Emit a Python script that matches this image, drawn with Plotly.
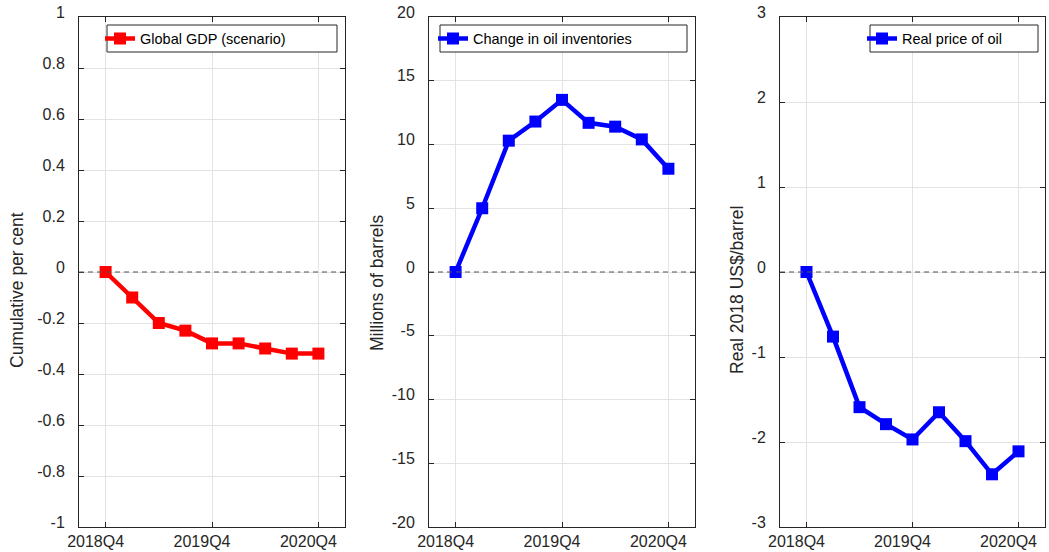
import plotly.graph_objects as go

# ---------------- data ----------------
quarters = ["2018Q4", "2019Q1", "2019Q2", "2019Q3", "2019Q4",
            "2020Q1", "2020Q2", "2020Q3", "2020Q4"]
x_tick_labels = ["2018Q4", "2019Q4", "2020Q4"]

gdp_values = [0.0, -0.10, -0.20, -0.23, -0.28, -0.28, -0.30, -0.32, -0.32]
inventory_values = [0.0, 5.0, 10.3, 11.8, 13.5, 11.7, 11.4, 10.4, 8.1]
price_values = [0.0, -0.76, -1.59, -1.79, -1.97, -1.65, -1.99, -2.38, -2.11]

series_names = ["Global GDP (scenario)", "Change in oil inventories", "Real price of oil"]
y_titles = ["Cumulative per cent", "Millions of barrels", "Real 2018 US$/barrel"]

gdp_ticks = [-1, -0.8, -0.6, -0.4, -0.2, 0, 0.2, 0.4, 0.6, 0.8, 1]
inventory_ticks = [-20, -15, -10, -5, 0, 5, 10, 15, 20]
price_ticks = [-3, -2, -1, 0, 1, 2, 3]

# ---------------- layout helpers ----------------
W, H = 1049, 552
FONT = "Liberation Sans, Arial, sans-serif"
TXT = "#262626"


def px_x(p):
    return p / W


def px_y(p):
    return 1 - p / H


def fmt(v):
    return f"{round(v, 6):g}"


panels = [
    dict(ticks=gdp_ticks, rng=[-1, 1], color="#ff0000",
         dom=[79, 345], legend_box=[107, 337], legend_x=100, title_x=17),
    dict(ticks=inventory_ticks, rng=[-20, 20], color="#0000ff",
         dom=[429, 695], legend_box=[440, 687], legend_x=433, title_x=377),
    dict(ticks=price_ticks, rng=[-3, 3], color="#0000ff",
         dom=[780, 1045], legend_box=[870, 1038], legend_x=862, title_x=737),
]
series_list = [gdp_values, inventory_values, price_values]

fig = go.Figure()
layout = dict(
    template="none",
    width=W, height=H,
    margin=dict(l=0, r=0, t=0, b=0, autoexpand=False),
    paper_bgcolor="white", plot_bgcolor="white",
    font=dict(family=FONT, color=TXT, size=16),
    shapes=[], annotations=[],
)

plot_top, plot_bottom = 17, 527

for i, p in enumerate(panels):
    n = "" if i == 0 else str(i + 1)
    leg = "legend" if i == 0 else f"legend{i + 1}"
    fig.add_trace(go.Scatter(
        x=quarters, y=series_list[i], name=series_names[i],
        mode="lines+markers",
        line=dict(color=p["color"], width=4.5),
        marker=dict(symbol="square", size=12, color=p["color"]),
        xaxis=f"x{n}", yaxis=f"y{n}", legend=leg, showlegend=True,
        cliponaxis=False,
    ))
    common = dict(
        showline=True, mirror="allticks", linecolor=TXT, linewidth=1,
        ticks="inside", ticklen=5, tickcolor=TXT, tickwidth=1,
        showgrid=True, gridcolor="#e3e3e3", gridwidth=1,
        zeroline=False, automargin=False,
        tickfont=dict(family=FONT, size=16, color=TXT),
    )
    layout[f"xaxis{n}"] = dict(
        common, domain=[px_x(p["dom"][0]), px_x(p["dom"][1])],
        anchor=f"y{n}", type="category", categoryorder="array",
        categoryarray=quarters, range=[-1, 9],
        tickvals=x_tick_labels, ticktext=x_tick_labels,
        ticklabelshift=-10, ticklabelstandoff=0,
    )
    layout[f"yaxis{n}"] = dict(
        common, domain=[px_y(plot_bottom), px_y(plot_top)],
        anchor=f"x{n}", range=p["rng"],
        tickvals=p["ticks"], ticktext=[fmt(v) for v in p["ticks"]],
        ticklabelshift=-5, ticklabelstandoff=10,
    )
    # dashed zero reference line
    layout["shapes"].append(dict(
        type="line", xref=f"x{n} domain", x0=0, x1=1, yref=f"y{n}", y0=0, y1=0,
        line=dict(color="#555555", width=1, dash="5px,4px"), layer="above",
    ))
    # legend box
    layout["shapes"].append(dict(
        type="rect", xref="paper", yref="paper",
        x0=px_x(p["legend_box"][0]), x1=px_x(p["legend_box"][1]),
        y0=px_y(52), y1=px_y(25),
        line=dict(color=TXT, width=1), fillcolor="white", layer="above",
    ))
    layout[leg] = dict(
        x=px_x(p["legend_x"]), xanchor="left", y=px_y(38.5), yanchor="middle",
        bgcolor="rgba(0,0,0,0)", borderwidth=0,
        font=dict(family=FONT, size=14.5, color="#000000"),
        itemwidth=30, tracegroupgap=0,
    )
    # y-axis title
    layout["annotations"].append(dict(
        text=y_titles[i], xref="paper", yref="paper",
        x=px_x(p["title_x"]), y=px_y(290 if i != 1 else 283),
        textangle=-90, showarrow=False, xanchor="center", yanchor="middle",
        font=dict(family=FONT, size=17.5, color=TXT),
    ))

fig.update_layout(**layout)
fig.write_html(
    "out.html",
    config={"displayModeBar": False},
    post_script="document.body.style.margin='0';document.body.style.overflow='hidden';",
)
